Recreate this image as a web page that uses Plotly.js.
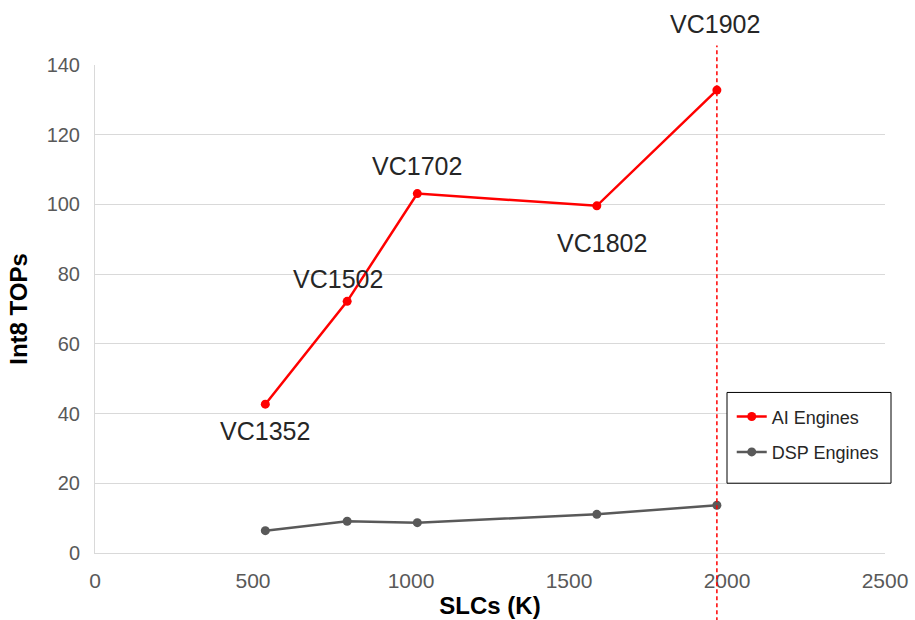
<!DOCTYPE html>
<html>
<head>
<meta charset="utf-8">
<script src="https://cdn.plot.ly/plotly-3.0.1.min.js"></script>
<style>
  html, body { margin: 0; padding: 0; background: #fff; }
  #chart { width: 915px; height: 620px; }
</style>
</head>
<body>
<div id="chart"></div>
<script>
// Versal AI Core devices: logic capacity vs. INT8 throughput
const devices   = ["VC1352", "VC1502", "VC1702", "VC1802", "VC1902"];
const slcsK     = [539, 798, 1020, 1588, 1968];
const aiTops    = [42.7, 72.2, 103.1, 99.6, 132.8];
const dspTops   = [6.4, 9.1, 8.7, 11.1, 13.7];

// Pixel offsets of each device label from its AI Engines point
const labelShift = [
  { dx: 0,  dy: -27 },
  { dx: -9, dy: 22 },
  { dx: 0,  dy: 28 },
  { dx: 5,  dy: -37 },
  { dx: -2, dy: 66 }
];

const FONT = "Liberation Sans, Arial, Helvetica, sans-serif";

const traces = [
  {
    x: slcsK, y: aiTops, name: "AI Engines", legendgroup: "ai",
    type: "scatter", mode: "lines+markers",
    line: { color: "#ff0000", width: 2.5 },
    marker: { color: "#ff0000", size: 9 }
  },
  {
    x: slcsK, y: dspTops, name: "DSP Engines", legendgroup: "dsp",
    type: "scatter", mode: "lines+markers",
    line: { color: "#595959", width: 2.5 },
    marker: { color: "#595959", size: 9 }
  }
];

const annotations = devices.map((d, i) => ({
  x: slcsK[i], y: aiTops[i], xref: "x", yref: "y",
  text: d, showarrow: false,
  xanchor: "center", yanchor: "middle",
  xshift: labelShift[i].dx, yshift: labelShift[i].dy,
  font: { family: FONT, size: 25, color: "#262626" }
}));

const flagship = slcsK[slcsK.length - 1];

const layout = {
  width: 915, height: 620,
  margin: { l: 95, r: 30, t: 65, b: 67 },
  paper_bgcolor: "#ffffff", plot_bgcolor: "#ffffff",
  font: { family: FONT, color: "#595959" },
  showlegend: true,
  legend: {
    x: 0.806, y: 0.317, xanchor: "left", yanchor: "top",
    borderwidth: 0, bgcolor: "rgba(0,0,0,0)",
    font: { family: FONT, size: 18, color: "#262626" },
    itemwidth: 30, tracegroupgap: 9, traceorder: "grouped"
  },
  xaxis: {
    range: [0, 2500], dtick: 500, tick0: 0,
    showgrid: false, zeroline: false,
    showline: true, linecolor: "#d9d9d9", linewidth: 1,
    ticks: "", ticklabelstandoff: 9,
    tickfont: { family: FONT, size: 21, color: "#595959" },
    title: { text: "<b>SLCs (K)</b>", standoff: 5,
             font: { family: FONT, size: 24, color: "#000000" } },
    fixedrange: true
  },
  yaxis: {
    range: [0, 140], dtick: 20, tick0: 0,
    showgrid: true, gridcolor: "#d9d9d9", gridwidth: 1,
    zeroline: false,
    showline: true, linecolor: "#d9d9d9", linewidth: 1,
    ticks: "", ticklabelstandoff: 10,
    tickfont: { family: FONT, size: 20, color: "#595959" },
    title: { text: "<b>Int8 TOPs</b>", standoff: 12,
             font: { family: FONT, size: 24, color: "#000000" } },
    fixedrange: true
  },
  shapes: [
    {
      type: "line", xref: "x", yref: "paper",
      x0: flagship, x1: flagship, y0: -0.14, y1: 1.04,
      line: { color: "#ff0000", width: 1.5, dash: "4px,3px" }
    },
    {
      // legend frame
      type: "rect", xref: "paper", yref: "paper", layer: "above",
      x0: 0.8, x1: 1.0076, y0: 0.143, y1: 0.329,
      fillcolor: "rgba(255,255,255,1)",
      line: { color: "#000000", width: 1 }
    }
  ],
  annotations: annotations
};

Plotly.newPlot("chart", traces, layout, { displayModeBar: false, staticPlot: true });
</script>
</body>
</html>
